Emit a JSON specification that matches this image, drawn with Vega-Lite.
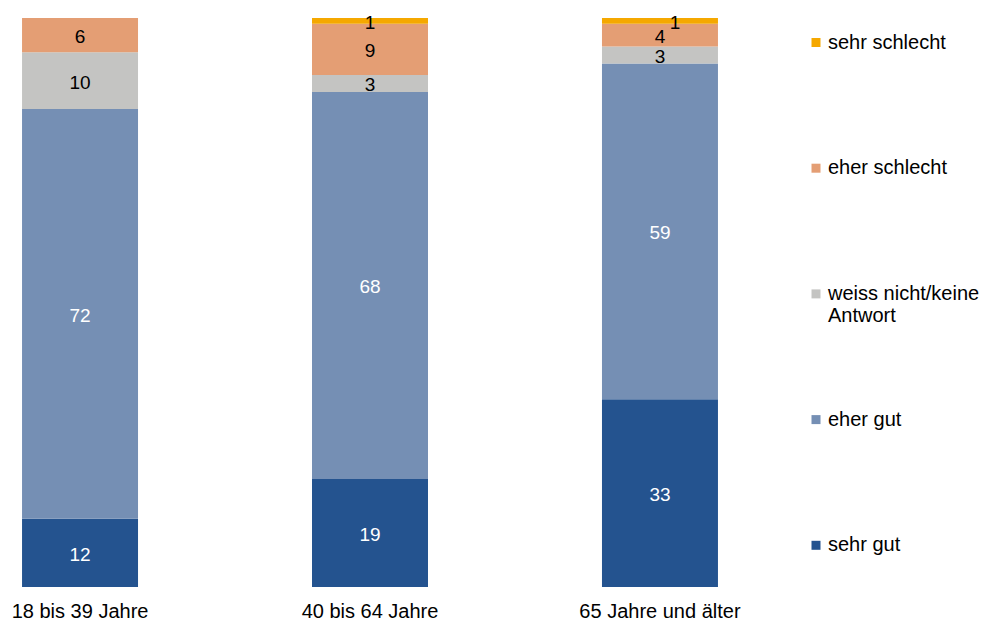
{
  "$schema": "https://vega.github.io/schema/vega-lite/v6.json",
  "autosize": {"type": "none"},
  "width": 740,
  "height": 569,
  "padding": {"left": 0, "top": 18, "right": 242, "bottom": 34},
  "background": "white",
  "config": {"view": {"stroke": null}, "font": "Liberation Sans"},
  "data": {"values": [
    {"group": "18 bis 39 Jahre", "category": "sehr gut", "rank": 1, "value": 12},
    {"group": "18 bis 39 Jahre", "category": "eher gut", "rank": 2, "value": 72},
    {"group": "18 bis 39 Jahre", "category": "weiss nicht/keine Antwort", "rank": 3, "value": 10},
    {"group": "18 bis 39 Jahre", "category": "eher schlecht", "rank": 4, "value": 6},
    {"group": "18 bis 39 Jahre", "category": "sehr schlecht", "rank": 5, "value": 0},
    {"group": "40 bis 64 Jahre", "category": "sehr gut", "rank": 1, "value": 19},
    {"group": "40 bis 64 Jahre", "category": "eher gut", "rank": 2, "value": 68},
    {"group": "40 bis 64 Jahre", "category": "weiss nicht/keine Antwort", "rank": 3, "value": 3},
    {"group": "40 bis 64 Jahre", "category": "eher schlecht", "rank": 4, "value": 9},
    {"group": "40 bis 64 Jahre", "category": "sehr schlecht", "rank": 5, "value": 1},
    {"group": "65 Jahre und älter", "category": "sehr gut", "rank": 1, "value": 33},
    {"group": "65 Jahre und älter", "category": "eher gut", "rank": 2, "value": 59},
    {"group": "65 Jahre und älter", "category": "weiss nicht/keine Antwort", "rank": 3, "value": 3},
    {"group": "65 Jahre und älter", "category": "eher schlecht", "rank": 4, "value": 4},
    {"group": "65 Jahre und älter", "category": "sehr schlecht", "rank": 5, "value": 1}
  ]},
  "encoding": {
    "x": {
      "field": "group", "type": "nominal", "sort": null,
      "scale": {"paddingInner": 0.6, "paddingOuter": 0.076},
      "axis": {"title": null, "domain": false, "ticks": false, "labelAngle": 0, "labelFontSize": 20, "labelColor": "black", "labelPadding": 14, "labelFont": "Liberation Sans"}
    },
    "y": {
      "field": "value", "type": "quantitative", "stack": "zero",
      "scale": {"domain": [0, 100], "nice": false, "zero": true},
      "axis": null
    },
    "order": {"field": "rank", "type": "quantitative", "sort": "ascending"}
  },
  "layer": [
    {
      "mark": {"type": "bar"},
      "encoding": {
        "color": {
          "field": "category", "type": "nominal",
          "scale": {
            "domain": ["sehr schlecht", "eher schlecht", "weiss nicht/keine Antwort", "eher gut", "sehr gut"],
            "range": ["#F5A800", "#E49E74", "#C4C4C2", "#758FB4", "#24538F"]
          },
          "legend": {
            "title": null, "orient": "none", "legendX": 806, "legendY": 14.5,
            "symbolType": "square", "symbolSize": 81, "symbolStrokeWidth": 0,
            "labelFontSize": 20, "labelFont": "Liberation Sans", "labelColor": "black",
            "labelLimit": 300, "gridAlign": "all", "rowPadding": 83.7, "labelOffset": 2,
            "labelExpr": "datum.label == 'weiss nicht/keine Antwort' ? ['weiss nicht/keine', 'Antwort'] : datum.label"
          }
        }
      }
    },
    {
      "mark": {"type": "text", "fontSize": 19, "font": "Liberation Sans", "baseline": "middle", "dy": 2},
      "encoding": {
        "y": {"field": "value", "type": "quantitative", "stack": "zero", "bandPosition": 0.5},
        "detail": {"field": "category"},
        "text": {"field": "value", "type": "quantitative"},
        "opacity": {
          "condition": {"test": "datum.value == 0 || (datum.group == '65 Jahre und älter' && datum.category == 'sehr schlecht')", "value": 0},
          "value": 1
        },
        "color": {
          "condition": {"test": "datum.category == 'sehr gut' || datum.category == 'eher gut'", "value": "white"},
          "value": "black"
        }
      }
    },
    {
      "mark": {"type": "text", "fontSize": 19, "font": "Liberation Sans", "baseline": "middle", "dy": 2, "dx": 15, "color": "black"},
      "encoding": {
        "y": {"field": "value", "type": "quantitative", "stack": "zero", "bandPosition": 0.5},
        "detail": {"field": "category"},
        "text": {"field": "value", "type": "quantitative"},
        "opacity": {
          "condition": {"test": "datum.group == '65 Jahre und älter' && datum.category == 'sehr schlecht'", "value": 1},
          "value": 0
        }
      }
    }
  ]
}
